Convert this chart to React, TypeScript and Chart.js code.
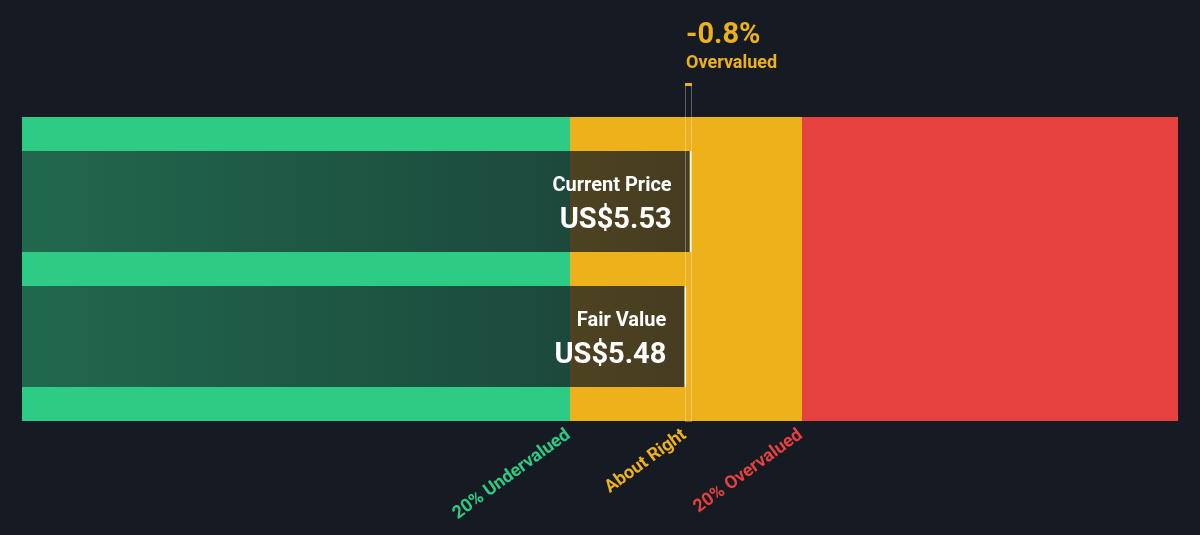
import React, { useEffect, useRef } from "react";
import { Chart, registerables } from "chart.js";

Chart.register(...registerables);

// ---- data ----
const categories = ["Current Price", "Fair Value"];
const prices = [5.53, 5.48];
const priceLabels = ["US$5.53", "US$5.48"];
const fairValue = 5.48;
const bandThresholds = [0.8 * fairValue, 1.2 * fairValue];
const bandLabels = ["20% Undervalued", "About Right", "20% Overvalued"];
const headline = ["-0.8%", "Overvalued"];
const axisMin = -0.79;
const axisMax = 10.12;

// ---- styles ----
const BG = "#161b23";
const GREEN = "#2ecb84";
const YELLOW = "#ecb11b";
const RED = "#e5413f";
const FONT = "Roboto, 'DejaVu Sans', sans-serif";

const overlayPlugin = {
  id: "valuationOverlay",
  beforeDatasetsDraw(chart: any) {
    const { ctx, chartArea, scales } = chart;
    const x = scales.x;
    const top = chartArea.top - 17;
    const bottom = chartArea.bottom + 17;
    const l = chartArea.left;
    const r = chartArea.right;
    const p1 = Math.round(x.getPixelForValue(bandThresholds[0]));
    const p2 = Math.round(x.getPixelForValue(bandThresholds[1]));
    ctx.save();
    ctx.fillStyle = GREEN;
    ctx.fillRect(l, top, p1 - l, bottom - top);
    ctx.fillStyle = YELLOW;
    ctx.fillRect(p1, top, p2 - p1, bottom - top);
    ctx.fillStyle = RED;
    ctx.fillRect(p2, top, r - p2, bottom - top);
    ctx.restore();
  },
  afterDatasetsDraw(chart: any) {
    const { ctx, chartArea, scales } = chart;
    const x = scales.x;
    const y = scales.y;
    const bottom = chartArea.bottom + 17;
    ctx.save();
    // marker between fair value and current price
    const fx = Math.round(x.getPixelForValue(fairValue));
    const cx = Math.round(x.getPixelForValue(prices[0]));
    const mTop = 83;
    ctx.strokeStyle = "rgba(255,255,255,0.3)";
    ctx.lineWidth = 1;
    ctx.strokeRect(fx - 0.5, mTop + 0.5, cx - fx, bottom - mTop);
    ctx.fillStyle = YELLOW;
    ctx.fillRect(fx - 1, mTop, cx - fx + 1, 3);

    // bar labels
    ctx.fillStyle = "#ffffff";
    ctx.textAlign = "right";
    ctx.textBaseline = "alphabetic";
    categories.forEach((c, i) => {
      const px = x.getPixelForValue(prices[i]) - 20;
      const py = y.getPixelForValue(i);
      ctx.font = `bold 20px ${FONT}`;
      ctx.fillText(c, px, py - 11);
      ctx.font = `bold 29px ${FONT}`;
      ctx.fillText(priceLabels[i], px, py + 26);
    });

    // headline
    ctx.textAlign = "left";
    ctx.fillStyle = YELLOW;
    ctx.font = `bold 29px ${FONT}`;
    ctx.fillText(headline[0], fx, 43);
    ctx.font = `bold 18px ${FONT}`;
    ctx.fillText(headline[1], fx, 68);

    // rotated band labels
    const anchors = [bandThresholds[0], fairValue, bandThresholds[1]];
    const colors = [GREEN, YELLOW, RED];
    ctx.font = `bold 18px ${FONT}`;
    ctx.textAlign = "right";
    ctx.textBaseline = "top";
    anchors.forEach((v, i) => {
      const px = x.getPixelForValue(v);
      ctx.save();
      ctx.translate(px - 7, bottom + 5);
      ctx.rotate((-36 * Math.PI) / 180);
      ctx.fillStyle = colors[i];
      ctx.fillText(bandLabels[i], 0, 0);
      ctx.restore();
    });
    ctx.restore();
  },
};

export default function App() {
  const ref = useRef<HTMLCanvasElement>(null);
  useEffect(() => {
    document.body.style.margin = "0";
    document.body.style.background = BG;
    const canvas = ref.current!;
    const chart = new Chart(canvas, {
      type: "bar",
      data: {
        labels: categories,
        datasets: [
          {
            data: prices.map((p) => [axisMin, p]) as any,
            backgroundColor: (c: any) => {
              const area = c.chart.chartArea;
              if (!area) return "rgba(22,27,35,0.65)";
              const g = c.chart.ctx.createLinearGradient(area.left, 0, c.chart.scales.x.getPixelForValue(prices[0]), 0);
              g.addColorStop(0, "rgba(22,27,35,0.56)");
              g.addColorStop(1, "rgba(22,27,35,0.78)");
              return g;
            },
            borderColor: "rgba(255,255,255,0.9)",
            borderWidth: { top: 0, left: 0, bottom: 0, right: 2 } as any,
            borderSkipped: false,
            barPercentage: 1,
            categoryPercentage: 101 / 135,
          },
        ],
      },
      options: {
        indexAxis: "y",
        animation: false,
        responsive: false,
        maintainAspectRatio: false,
        layout: { padding: { left: 22, right: 22, top: 134, bottom: 131 } },
        plugins: { legend: { display: false }, tooltip: { enabled: false } },
        scales: {
          x: { type: "linear", min: axisMin, max: axisMax, display: false },
          y: { type: "category", display: false, offset: true },
        },
      },
      plugins: [overlayPlugin],
    });
    return () => chart.destroy();
  }, []);
  return (
    <div style={{ width: 1200, height: 535, background: BG }}>
      <canvas ref={ref} width={1200} height={535} style={{ display: "block" }} />
    </div>
  );
}
